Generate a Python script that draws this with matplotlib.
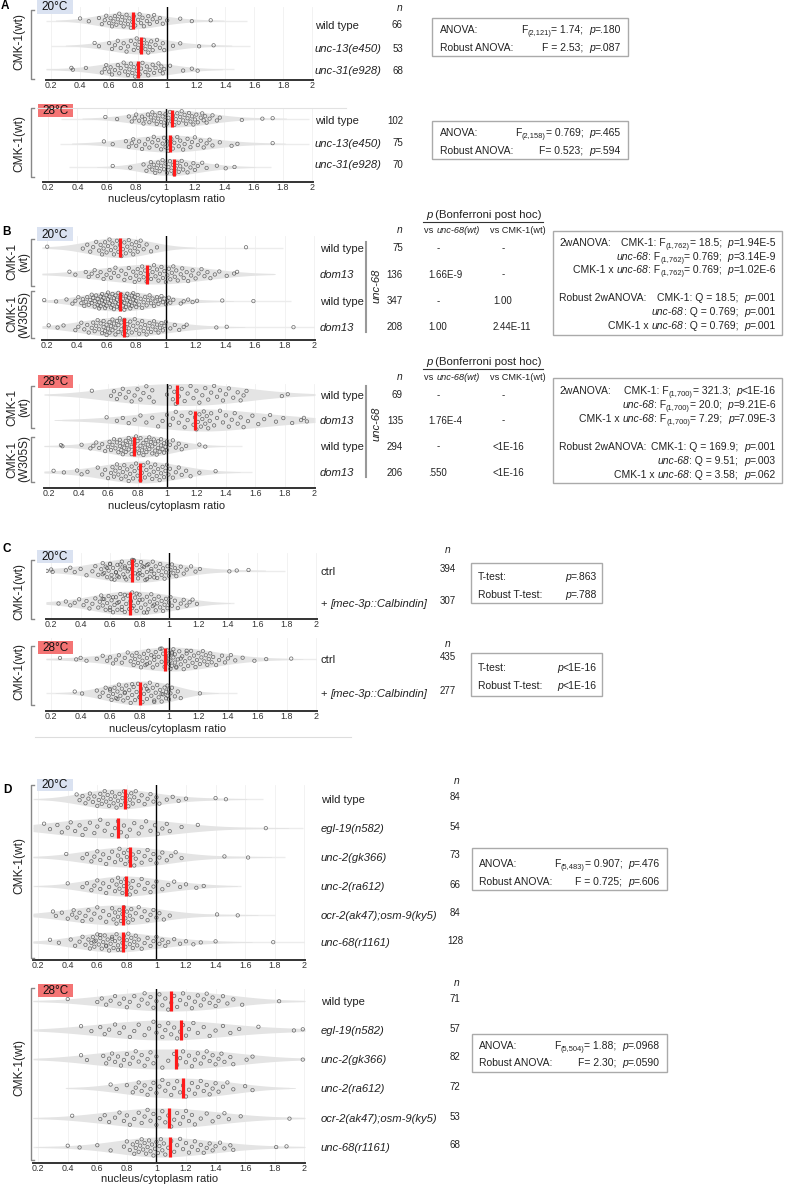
import matplotlib.pyplot as plt
import numpy as np
from matplotlib.patches import Rectangle

plt.rcParams['font.family'] = ['Liberation Sans', 'DejaVu Sans']

W, H = 797, 1186
XL = (0.165, 2.005)
TICKS = [0.2, 0.4, 0.6, 0.8, 1.0, 1.2, 1.4, 1.6, 1.8, 2.0]
TICKLAB = ['0.2', '0.4', '0.6', '0.8', '1', '1.2', '1.4', '1.6', '1.8', '2']

# ---- values (hundredths of the ratio) ----
a20_wt = [40, 46, 53, 55, 57, 58, 60, 61, 62, 63, 64, 65, 66, 67, 68, 69, 70, 71, 72, 73, 74, 75, 76, 77, 78,
          80, 81, 82, 83, 84, 86, 87, 88, 90, 91, 93, 95, 97, 100, 109, 117, 130]
a20_u13 = [50, 53, 60, 62, 64, 66, 68, 70, 72, 73, 75, 77, 78, 79, 80, 81, 82, 83, 84, 85, 86, 87, 88, 89, 90,
           92, 93, 95, 97, 98, 104, 109, 122, 132]
a20_u31 = [34, 35, 44, 55, 57, 58, 60, 61, 62, 64, 66, 67, 68, 70, 71, 72, 73, 74, 75, 76, 77, 78, 79, 80, 81,
           82, 83, 85, 86, 87, 88, 90, 91, 92, 94, 95, 96, 97, 98, 102, 111, 117, 121]
a28_wt = [59, 67, 75, 77, 79, 80, 82, 84, 85, 86, 88, 89, 90, 91, 92, 93, 94, 95, 96, 97, 98, 99, 100, 100, 101,
          102, 103, 104, 105, 106, 107, 108, 109, 110, 111, 112, 113, 114, 115, 116, 117, 118, 119, 120, 121,
          122, 124, 125, 126, 127, 128, 130, 132, 135, 137, 152, 166, 173]
a28_u13 = [58, 64, 73, 75, 77, 78, 80, 82, 84, 86, 88, 89, 91, 92, 94, 95, 97, 98, 99, 100, 101, 102, 103, 104,
           105, 106, 108, 109, 110, 112, 113, 115, 117, 118, 120, 122, 124, 126, 128, 130, 132, 137, 145, 149, 173]
a28_u31 = [64, 76, 85, 87, 89, 90, 91, 92, 93, 94, 95, 96, 97, 98, 99, 100, 101, 102, 103, 104, 105, 106, 107,
           108, 109, 110, 111, 112, 114, 115, 117, 119, 120, 122, 125, 128, 135, 141, 147]

b20_wt = [20, 44, 47, 49, 51, 53, 55, 56, 57, 58, 59, 60, 61, 62, 63, 64, 65, 66, 67, 68, 69, 70, 71, 72, 73, 74,
          75, 76, 77, 78, 79, 80, 81, 82, 83, 85, 87, 90, 94, 154]
b20_dom = [35, 39, 46, 48, 50, 52, 54, 56, 58, 60, 62, 63, 65, 66, 68, 70, 72, 73, 75, 76, 78, 79, 80, 81, 82, 83,
           84, 85, 86, 87, 88, 89, 90, 91, 92, 93, 94, 95, 96, 97, 98, 99, 100, 101, 102, 103, 104, 105, 106, 107,
           108, 110, 111, 112, 114, 115, 117, 118, 120, 122, 124, 126, 128, 130, 133, 136, 141, 146, 148]
b20_mwt = [18, 26, 33, 37, 39, 41, 43, 44, 45, 46, 47, 48, 49, 50, 50, 51, 52, 52, 53, 54, 54, 55, 55, 56, 56, 57,
           57, 58, 58, 59, 59, 60, 60, 61, 61, 62, 62, 63, 63, 64, 64, 65, 65, 66, 66, 67, 67, 68, 68, 69, 69, 70,
           70, 71, 71, 72, 72, 73, 73, 74, 74, 75, 75, 76, 76, 77, 77, 78, 78, 79, 79, 80, 80, 81, 82, 83, 84, 85,
           86, 87, 88, 89, 90, 91, 92, 93, 94, 95, 96, 97, 98, 99, 100, 101, 102, 103, 105, 110, 112, 115, 118,
           121, 138, 159]
b20_mdom = [21, 27, 31, 39, 41, 43, 45, 47, 48, 50, 51, 52, 53, 54, 55, 56, 57, 58, 58, 59, 60, 60, 61, 62, 62,
            63, 64, 64, 65, 66, 66, 67, 68, 68, 69, 70, 70, 71, 72, 72, 73, 74, 74, 75, 76, 77, 78, 79, 80, 81, 82,
            83, 84, 85, 86, 87, 88, 89, 90, 91, 92, 93, 94, 95, 96, 97, 98, 99, 100, 103, 106, 109, 112, 114, 134,
            141, 186]
b28_wt = [49, 62, 64, 66, 68, 70, 72, 74, 76, 78, 80, 82, 84, 86, 88, 90, 91, 100, 102, 104, 105, 106, 108, 110,
          112, 114, 116, 118, 120, 122, 124, 126, 128, 130, 132, 134, 136, 138, 140, 142, 145, 148, 150, 152, 154,
          178, 182]
b28_dom = [59, 66, 70, 74, 78, 82, 86, 90, 94, 97, 100, 102, 104, 106, 108, 110, 112, 114, 116, 118, 119, 120,
           121, 122, 123, 124, 125, 126, 127, 128, 129, 130, 132, 134, 136, 138, 140, 142, 144, 146, 148, 150, 152,
           155, 158, 162, 166, 170, 174, 179, 185, 191, 193, 195]
b28_mwt = [28, 29, 42, 48, 50, 52, 54, 56, 58, 60, 61, 62, 63, 64, 65, 66, 67, 68, 68, 69, 70, 70, 71, 72, 72, 73,
           74, 74, 75, 76, 76, 77, 78, 78, 79, 80, 80, 81, 82, 82, 83, 84, 84, 85, 86, 86, 87, 88, 88, 89, 90, 90,
           91, 92, 92, 93, 94, 94, 95, 96, 96, 97, 98, 98, 99, 100, 100, 102, 104, 106, 108, 110, 113, 122, 126]
b28_mdom = [23, 30, 39, 42, 46, 53, 56, 58, 60, 62, 63, 64, 65, 66, 67, 68, 69, 70, 71, 72, 73, 74, 75, 76, 77, 78,
            79, 80, 81, 82, 83, 84, 85, 86, 87, 88, 89, 90, 91, 92, 93, 94, 95, 96, 97, 98, 99, 100, 101, 102, 104,
            106, 108, 110, 113, 116, 122, 133]

c20_ctrl = [15, 17, 20, 21, 30, 33, 36, 40, 44, 48, 50, 52, 54, 55, 56, 57, 58, 59, 60, 61, 62, 63, 64, 65, 66, 67,
            68, 69, 70, 71, 72, 73, 74, 75, 76, 77, 78, 79, 80, 81, 82, 83, 84, 85, 86, 87, 88, 89, 90, 91, 92, 93,
            94, 95, 96, 97, 98, 99, 100, 101, 102, 103, 104, 105, 106, 108, 110, 112, 115, 118, 121, 141, 146, 154,
            55, 58, 61, 64, 67, 70, 73, 76, 79, 82, 85, 88, 60, 65, 70, 75, 80, 85, 90]
c20_calb = [15, 25, 30, 33, 36, 39, 42, 44, 46, 48, 50, 52, 53, 54, 55, 56, 57, 58, 59, 60, 61, 62, 63, 64, 65, 66,
            67, 68, 69, 70, 71, 72, 73, 74, 75, 76, 77, 78, 79, 80, 81, 82, 83, 84, 85, 86, 87, 88, 89, 90, 91, 92,
            93, 94, 95, 96, 97, 98, 99, 100, 101, 102, 104, 106, 108, 110, 112, 114, 116, 119,
            55, 60, 65, 70, 75, 80, 85, 90, 62, 68, 74, 78]
c28_ctrl = [26, 37, 40, 44, 51, 55, 58, 60, 62, 64, 66, 68, 70, 72, 74, 75, 76, 77, 78, 79, 80, 81, 82, 83, 84, 85,
            86, 87, 88, 89, 90, 91, 92, 93, 94, 95, 96, 97, 98, 99, 100, 100, 101, 101, 102, 102, 103, 103, 104,
            104, 105, 106, 107, 108, 109, 110, 111, 112, 113, 114, 115, 116, 117, 118, 119, 120, 121, 122, 123, 124,
            125, 126, 127, 128, 129, 130, 132, 134, 136, 138, 140, 142, 145, 150, 158, 166, 183,
            85, 90, 95, 98, 102, 105, 108, 112]
c28_calb = [36, 41, 51, 53, 55, 57, 59, 60, 61, 62, 63, 64, 65, 66, 67, 68, 69, 70, 71, 72, 73, 74, 75, 76, 77, 78,
            79, 80, 81, 82, 83, 84, 85, 86, 87, 88, 89, 90, 91, 92, 93, 94, 95, 96, 97, 98, 98, 99, 99, 100, 100,
            101, 102, 104, 106, 108, 121, 60, 65, 70, 75, 80, 85, 90, 95]

d20_wt = [46, 48, 50, 52, 54, 55, 57, 58, 60, 61, 62, 63, 64, 65, 66, 67, 68, 69, 70, 71, 72, 73, 74, 75, 76, 77,
          78, 79, 80, 81, 82, 83, 84, 85, 86, 88, 90, 92, 94, 96, 98, 100, 102, 107, 111, 115, 120, 140, 147]
d20_egl = [24, 28, 33, 36, 40, 42, 45, 48, 50, 52, 55, 58, 60, 62, 65, 67, 70, 72, 74, 76, 78, 80, 82, 85, 88, 90,
           93, 96, 99, 101, 104, 107, 109, 117, 128, 174]
d20_gk = [39, 50, 53, 56, 58, 60, 62, 64, 66, 68, 70, 72, 74, 75, 76, 78, 79, 80, 81, 82, 84, 85, 86, 88, 90, 92,
          94, 96, 98, 100, 102, 104, 107, 110, 113, 117, 146, 162]
d20_ra = [40, 50, 53, 56, 58, 60, 62, 64, 66, 68, 70, 72, 73, 74, 75, 76, 77, 78, 79, 80, 81, 82, 83, 84, 86, 88,
          90, 92, 94, 96, 98, 100, 104, 108, 112, 116, 120, 127, 132]
d20_ocr = [30, 32, 36, 40, 43, 44, 46, 48, 50, 52, 54, 56, 58, 60, 62, 64, 66, 68, 70, 71, 72, 73, 74, 75, 76, 77,
           78, 79, 80, 81, 82, 83, 84, 86, 88, 90, 92, 94, 96, 98, 100, 102, 105, 109, 141, 155]
d20_r11 = [28, 34, 42, 45, 48, 50, 52, 54, 55, 56, 57, 58, 59, 60, 61, 62, 63, 64, 65, 66, 67, 68, 69, 70, 71, 72,
           73, 74, 75, 76, 77, 78, 79, 80, 81, 82, 83, 84, 85, 86, 87, 88, 90, 92, 94, 96, 98, 100, 102, 104, 106,
           108, 112, 116, 120, 125, 130, 140, 179, 58, 62, 66, 70, 74]
d28_wt = [40, 60, 63, 66, 69, 72, 75, 78, 80, 82, 85, 88, 90, 92, 94, 96, 98, 100, 102, 104, 106, 108, 110, 112,
          114, 116, 118, 120, 122, 124, 126, 128, 130, 132, 134, 136, 138, 140, 142, 145, 148, 152, 158, 183]
d28_egl = [49, 56, 62, 65, 68, 72, 75, 78, 82, 85, 88, 92, 95, 98, 100, 102, 104, 106, 108, 110, 112, 114, 116, 118,
           120, 122, 125, 128, 132, 136, 140, 145, 150, 156, 169, 193, 199]
d28_gk = [49, 53, 64, 66, 68, 70, 72, 74, 76, 78, 80, 82, 84, 86, 88, 90, 92, 94, 96, 98, 100, 104, 108, 112, 114,
          116, 118, 120, 122, 124, 126, 128, 130, 132, 134, 136, 138, 140, 142, 144, 146, 150, 152, 161, 165, 199]
d28_ra = [69, 73, 80, 84, 86, 88, 90, 92, 94, 96, 98, 100, 102, 104, 106, 108, 110, 112, 114, 116, 118, 120, 122,
          124, 126, 128, 130, 132, 134, 136, 138, 140, 142, 145, 148, 152, 160, 165]
d28_ocr = [43, 62, 65, 68, 72, 75, 78, 80, 82, 85, 88, 90, 92, 94, 96, 98, 100, 102, 104, 106, 108, 110, 112, 114,
           116, 118, 120, 122, 124, 126, 130, 134, 138, 142, 146, 149, 157, 190]
d28_r11 = [40, 48, 60, 69, 78, 80, 82, 84, 85, 86, 87, 88, 89, 90, 91, 92, 93, 94, 95, 96, 97, 98, 99, 100, 101,
           102, 103, 104, 105, 106, 108, 110, 112, 114, 116, 118, 120, 122, 124, 126, 128, 130, 132, 134, 136, 138,
           140, 143, 146, 150, 152, 181, 188]

# medians (red bars)
a20_med = [0.762, 0.818, 0.796]
a28_med = [1.045, 1.031, 1.061]
b20_med = [0.688, 0.876, 0.688, 0.715]
b28_med = [1.067, 1.19, 0.775, 0.815]
c20_med = [0.747, 0.738]
c28_med = [0.975, 0.804]
d20_med = [0.786, 0.741, 0.82, 0.797, 0.771, 0.775]
d28_med = [1.096, 1.169, 1.135, 1.18, 1.085, 1.094]

# sample sizes
a20_n = ['66', '53', '68']
a28_n = ['102', '75', '70']
b20_n = ['75', '136', '347', '208']
b28_n = ['69', '135', '294', '206']
c20_n = ['394', '307']
c28_n = ['435', '277']
d20_n = ['84', '54', '73', '66', '84', '128']
d28_n = ['71', '57', '82', '72', '53', '68']

# Bonferroni columns
b20_p1 = ['-', '1.66E-9', '-', '1.00']
b20_p2 = ['-', '-', '1.00', '2.44E-11']
b28_p1 = ['-', '1.76E-4', '-', '.550']
b28_p2 = ['-', '-', '<1E-16', '<1E-16']

a_labels = [('wild type', ''), ('unc-13(e450)', 'i'), ('unc-31(e928)', 'i')]
b_labels = [('wild type', ''), ('dom13', 'i'), ('wild type', ''), ('dom13', 'i')]
d_labels = [('wild type', ''), ('egl-19(n582)', 'i'), ('unc-2(gk366)', 'i'), ('unc-2(ra612)', 'i'),
            ('ocr-2(ak47);osm-9(ky5)', 'i'), ('unc-68(r1161)', 'i')]

LAB = 8.1   # row label size
NS = 7.0    # n / p-value size
ST = 7.5    # stats box size

fig = plt.figure(figsize=(W / 100, H / 100), dpi=100)
ov = fig.add_axes([0, 0, 1, 1], zorder=10)
ov.set_xlim(0, W)
ov.set_ylim(H, 0)
ov.axis('off')
ov.patch.set_alpha(0)
R = fig.canvas.get_renderer()


def panel(l, t, r, b, rows, groups, meds, hw, mh):
    ax = fig.add_axes([l / W, 1 - b / H, (r - l) / W, (b - t) / H])
    ax.set_xlim(XL)
    ax.set_ylim(b, t)
    ax.set_xticks(TICKS)
    ax.set_xticklabels(TICKLAB)
    ax.set_yticks([])
    ax.tick_params(axis='x', length=0, pad=0.8, labelsize=6.4, labelcolor='#333')
    for s in ['top', 'left', 'right']:
        ax.spines[s].set_visible(False)
    ax.spines['bottom'].set_color('#333')
    ax.spines['bottom'].set_linewidth(1.4)
    ax.grid(axis='x', color='#f0f0f0', lw=0.6)
    ax.set_axisbelow(True)
    ax.patch.set_alpha(0)
    grid = np.linspace(XL[0], XL[1], 700)
    for y, vals, m in zip(rows, groups, meds):
        v = np.array(vals) / 100
        bw = 1.06 * v.std() * len(v) ** -0.2 * 1.6

        def kde(x):
            return np.exp(-0.5 * ((np.asarray(x)[:, None] - v[None, :]) / bw) ** 2).sum(1)
        d = kde(grid)
        top = d.max()
        d = d / top * hw
        ax.hlines(y, max(v.min() - 0.3, XL[0]), min(v.max() + 0.25, XL[1]), color='#ececec', lw=1.0, zorder=0.8)
        ax.fill_between(grid, y - d, y + d, where=d > 0.4, color='#e4e4e4', lw=0, zorder=1)
        u = ((np.arange(len(v)) * 0.6180339887) % 1) * 2 - 1
        dv = kde(v) / top * hw
        ax.scatter(v, y + u * dv * 0.9, s=6, facecolors='none', edgecolors='#444', linewidths=0.5,
                   alpha=0.8, zorder=3)
        ax.plot([m, m], [y - mh, y + mh], color='#ff1a1a', lw=2.3, solid_capstyle='butt', zorder=4)
    ax.axvline(1, color='black', lw=1.0, zorder=2)
    return ax


def tw(s, size, style):
    t1 = ov.text(0, 0, s + '|', fontsize=size, style=style)
    t2 = ov.text(0, 0, '|', fontsize=size, style=style)
    w = t1.get_window_extent(R).width - t2.get_window_extent(R).width
    t1.remove()
    t2.remove()
    return w


def rich(x, y, parts, ha='left', size=ST, color='#222'):
    specs = []
    for s, k in parts:
        fs = size * 0.72 if k == 's' else size
        st = 'italic' if k == 'i' else 'normal'
        specs.append((s, fs, st, k))
    ws = [tw(s, fs, st) for s, fs, st, k in specs]
    tot = sum(ws)
    x0 = {'left': x, 'right': x - tot, 'center': x - tot / 2}[ha]
    base = y + 0.36 * size * 100 / 72
    for (s, fs, st, k), w in zip(specs, ws):
        ov.text(x0, base + (2.3 if k == 's' else 0), s, fontsize=fs, style=st, color=color,
                va='baseline', ha='left')
        x0 += w


def temp_box(x, y, w, h, label, fc):
    ov.add_patch(Rectangle((x, y), w, h, facecolor=fc, edgecolor='none'))
    ov.text(x + w / 2, y + h / 2 + 0.5, label, fontsize=8.5, ha='center', va='center', color='#111')


def bracket(x, y0, y1):
    ov.plot([x + 3, x, x, x + 3], [y0, y0, y1, y1], color='#888', lw=1.0)


def ylab(x, y, s):
    ov.text(x, y, s, rotation=90, ha='center', va='center', fontsize=8.6, linespacing=1.0, color='#222')


def box(x0, y0, x1, y1):
    ov.add_patch(Rectangle((x0, y0), x1 - x0, y1 - y0, facecolor='white', edgecolor='#aaa', lw=1.0))


def xlab(x, y):
    ov.text(x, y, 'nucleus/cytoplasm ratio', fontsize=8.0, ha='center', va='center', color='#222')


# ---------------- panel A ----------------
a20_rows = [20.5, 45.5, 69.3]
a28_rows = [118.5, 143.5, 167]
panel(46, 7, 313, 80, a20_rows, [a20_wt, a20_u13, a20_u31], a20_med, 8.5, 8.5)
panel(43, 108, 313, 182, a28_rows, [a28_wt, a28_u13, a28_u31], a28_med, 8.5, 8.5)
ov.plot([37, 346], [108, 108], color='#e2e2e2', lw=0.8)
ov.text(1, 6, 'A', fontsize=8.5, weight='bold', va='center')
temp_box(37, 0, 36, 14, '20°C', '#dae2f1')
temp_box(38, 104, 35, 13, '28°C', '#f47474')
bracket(31, 10, 79)
bracket(31, 108, 177)
ylab(19, 42, 'CMK-1(wt)')
ylab(19, 143, 'CMK-1(wt)')
xlab(167, 198.5)
rich(400, 7, [('n', 'i')], ha='center', size=7.4)
for yy, (s, k), n in zip([25, 48, 70], a_labels, a20_n):
    rich(315, yy, [(s, k)], size=LAB)
    rich(403, yy, [(n, '')], ha='right', size=NS)
for yy, (s, k), n in zip([120, 143, 164], a_labels, a28_n):
    rich(315, yy, [(s, k)], size=LAB)
    rich(403, yy, [(n, '')], ha='right', size=NS)
box(432, 18, 628, 56)
rich(440, 29, [('ANOVA:', '')])
rich(621, 29, [('F', ''), ('(2,121)', 's'), ('= 1.74;  ', ''), ('p', 'i'), ('=.180', '')], ha='right')
rich(440, 47, [('Robust ANOVA:', '')])
rich(621, 47, [('F = 2.53;  ', ''), ('p', 'i'), ('=.087', '')], ha='right')
box(432, 121, 628, 159)
rich(440, 132, [('ANOVA:', '')])
rich(621, 132, [('F', ''), ('(2,158)', 's'), ('= 0.769;  ', ''), ('p', 'i'), ('=.465', '')], ha='right')
rich(440, 150, [('Robust ANOVA:', '')])
rich(621, 150, [('F= 0.523;  ', ''), ('p', 'i'), ('=.594', '')], ha='right')

# ---------------- panel B ----------------
b20_rows = [247.5, 274, 301, 327]
b28_rows = [394.5, 420, 446, 472]
panel(42, 236, 315, 340, b20_rows, [b20_wt, b20_dom, b20_mwt, b20_mdom], b20_med, 10, 9.5)
panel(44, 384, 315, 488, b28_rows, [b28_wt, b28_dom, b28_mwt, b28_mdom], b28_med, 11, 9.5)
ov.text(2, 232, 'B', fontsize=8.5, weight='bold', va='center')
temp_box(37, 227, 36, 14, '20°C', '#dae2f1')
temp_box(38, 375, 35, 13, '28°C', '#f47474')
bracket(31, 239, 286)
bracket(31, 291, 338)
bracket(31, 386, 428)
bracket(31, 437, 482)
ylab(18, 262, 'CMK-1\n(wt)')
ylab(18, 314, 'CMK-1\n(W305S)')
ylab(18, 407, 'CMK-1\n(wt)')
ylab(18, 459, 'CMK-1\n(W305S)')
xlab(167, 506)


def bonf(top, rows, ns, p1, p2, vy0, vy1, uy):
    rich(484, top, [('p', 'i'), (' (Bonferroni post hoc)', '')], ha='center', size=8.2)
    ov.plot([423, 543], [top + 8, top + 8], color='#333', lw=0.8)
    rich(400, top + 15, [('n', 'i')], ha='center', size=7.4)
    rich(452, top + 16, [('vs ', ''), ('unc-68(wt)', 'i')], ha='center', size=6.6)
    rich(518, top + 16, [('vs CMK-1(wt)', '')], ha='center', size=6.6)
    for yy, (s, k), n, a, c in zip(rows, b_labels, ns, p1, p2):
        rich(320, yy, [(s, k)], size=LAB)
        rich(403, yy, [(n, '')], ha='right', size=NS)
        if a == '-':
            rich(438, yy, [(a, '')], ha='center', size=NS)
        else:
            rich(428, yy, [(a, '')], size=NS)
        if c == '-':
            rich(503, yy, [(c, '')], ha='center', size=NS)
        else:
            rich(493, yy, [(c, '')], size=NS)
    ov.plot([366, 366], [vy0, vy1], color='#999', lw=1.5)
    ov.text(377, uy, 'unc-68', rotation=90, style='italic', fontsize=LAB, ha='center', va='center', color='#222')


bonf(214, b20_rows, b20_n, b20_p1, b20_p2, 242, 332, 286)
bonf(361, b28_rows, b28_n, b28_p1, b28_p2, 386, 477, 424)

CX = [('CMK-1 x ', ''), ('unc-68', 'i')]
box(553, 231, 782, 335)
rich(559, 242, [('2wANOVA:', '')])
rich(776, 242, [('CMK-1: F', ''), ('(1,762)', 's'), ('= 18.5;  ', ''), ('p', 'i'), ('=1.94E-5', '')], ha='right')
rich(776, 256, [('unc-68', 'i'), (': F', ''), ('(1,762)', 's'), ('= 0.769;  ', ''), ('p', 'i'), ('=3.14E-9', '')],
     ha='right')
rich(776, 269, CX + [(': F', ''), ('(1,762)', 's'), ('= 0.769;  ', ''), ('p', 'i'), ('=1.02E-6', '')], ha='right')
rich(559, 297, [('Robust 2wANOVA:', '')])
rich(776, 297, [('CMK-1: Q = 18.5;  ', ''), ('p', 'i'), ('=.001', '')], ha='right')
rich(776, 311, [('unc-68', 'i'), (': Q = 0.769;  ', ''), ('p', 'i'), ('=.001', '')], ha='right')
rich(776, 325, CX + [(': Q = 0.769;  ', ''), ('p', 'i'), ('=.001', '')], ha='right')

box(553, 378, 782, 483)
rich(559, 390, [('2wANOVA:', '')])
rich(776, 390, [('CMK-1: F', ''), ('(1,700)', 's'), ('= 321.3;  ', ''), ('p', 'i'), ('<1E-16', '')], ha='right')
rich(776, 404, [('unc-68', 'i'), (': F', ''), ('(1,700)', 's'), ('= 20.0;  ', ''), ('p', 'i'), ('=9.21E-6', '')],
     ha='right')
rich(776, 418, CX + [(': F', ''), ('(1,700)', 's'), ('= 7.29;  ', ''), ('p', 'i'), ('=7.09E-3', '')], ha='right')
rich(559, 446, [('Robust 2wANOVA:', '')])
rich(776, 446, [('CMK-1: Q = 169.9;  ', ''), ('p', 'i'), ('=.001', '')], ha='right')
rich(776, 460, [('unc-68', 'i'), (': Q = 9.51;  ', ''), ('p', 'i'), ('=.003', '')], ha='right')
rich(776, 474, CX + [(': Q = 3.58;  ', ''), ('p', 'i'), ('=.062', '')], ha='right')

# ---------------- panel C ----------------
c20_rows = [570.5, 603]
c28_rows = [659, 693]
panel(46, 553, 317, 619, c20_rows, [c20_ctrl, c20_calb], c20_med, 12, 11.5)
panel(46, 638, 317, 711, c28_rows, [c28_ctrl, c28_calb], c28_med, 12, 11.5)
ov.text(3, 549, 'C', fontsize=8.5, weight='bold', va='center')
temp_box(37, 550, 36, 13, '20°C', '#dae2f1')
temp_box(38, 641, 35, 13, '28°C', '#f47474')
bracket(31, 560, 619)
bracket(31, 646, 705)
ylab(19, 592, 'CMK-1(wt)')
ylab(19, 672, 'CMK-1(wt)')
xlab(168, 729)
ov.plot([35, 351], [737, 737], color='#dddddd', lw=0.8)
for top, rows, ns in [(549, c20_rows, c20_n), (643, c28_rows, c28_n)]:
    rich(448, top, [('n', 'i')], ha='center', size=7.4)
    rich(321, rows[0], [('ctrl', '')], size=LAB)
    rich(321, rows[1], [('+ ', ''), ('[mec-3p::Calbindin]', 'i')], size=LAB)
    for yy, n in zip(rows, ns):
        rich(448, yy - 2, [(n, '')], ha='center', size=NS)
box(471, 563, 602, 603)
rich(478, 576, [('T-test:', '')])
rich(597, 576, [('p', 'i'), ('=.863', '')], ha='right')
rich(478, 594, [('Robust T-test:', '')])
rich(597, 594, [('p', 'i'), ('=.788', '')], ha='right')
box(471, 653, 602, 696)
rich(478, 667, [('T-test:', '')])
rich(597, 667, [('p', 'i'), ('<1E-16', '')], ha='right')
rich(478, 685, [('Robust T-test:', '')])
rich(597, 685, [('p', 'i'), ('<1E-16', '')], ha='right')

# ---------------- panel D ----------------
d20_rows = [799, 828, 857, 886, 915, 942]
d28_rows = [1001, 1030, 1059, 1088, 1118, 1147]
panel(33, 785, 305, 960, d20_rows, [d20_wt, d20_egl, d20_gk, d20_ra, d20_ocr, d20_r11], d20_med, 10, 10)
panel(33, 989, 305, 1163, d28_rows, [d28_wt, d28_egl, d28_gk, d28_ra, d28_ocr, d28_r11], d28_med, 10, 10)
ov.text(3, 790, 'D', fontsize=8.5, weight='bold', va='center')
temp_box(37, 779, 36, 12, '20°C', '#dae2f1')
temp_box(38, 984, 35, 13, '28°C', '#f47474')
bracket(31, 785, 958)
bracket(31, 988, 1160)
ylab(19, 865, 'CMK-1(wt)')
ylab(19, 1067, 'CMK-1(wt)')
xlab(160, 1179.5)
for top, rows, ns in [(780, d20_rows, d20_n), (982, d28_rows, d28_n)]:
    rich(457, top, [('n', 'i')], ha='center', size=7.4)
    for yy, (s, k), n in zip(rows, d_labels, ns):
        rich(321, yy, [(s, k)], size=LAB)
        rich(455, yy - 2, [(n, '')], ha='center', size=NS)
box(472, 848, 667, 890)
rich(479, 863, [('ANOVA:', '')])
rich(660, 863, [('F', ''), ('(5,483)', 's'), ('= 0.907;  ', ''), ('p', 'i'), ('=.476', '')], ha='right')
rich(479, 881, [('Robust ANOVA:', '')])
rich(660, 881, [('F = 0.725;  ', ''), ('p', 'i'), ('=.606', '')], ha='right')
box(472, 1034, 667, 1072)
rich(479, 1045, [('ANOVA:', '')])
rich(660, 1045, [('F', ''), ('(5,504)', 's'), ('= 1.88;  ', ''), ('p', 'i'), ('=.0968', '')], ha='right')
rich(479, 1062, [('Robust ANOVA:', '')])
rich(660, 1062, [('F= 2.30;  ', ''), ('p', 'i'), ('=.0590', '')], ha='right')

fig.savefig('out.png', dpi=100)
